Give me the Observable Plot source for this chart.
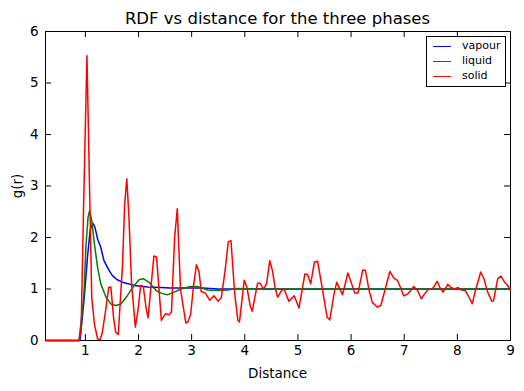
<!DOCTYPE html>
<html>
<head>
<meta charset="utf-8">
<script src="https://cdn.jsdelivr.net/npm/d3@7"></script>
<script src="https://cdn.jsdelivr.net/npm/@observablehq/plot@0.6"></script>
<style>
  html, body { margin: 0; padding: 0; background: #fff; }
  #wrap { position: relative; width: 524px; height: 391px; font-family: "DejaVu Sans", sans-serif; }
  #wrap svg { position: absolute; left: 0; top: 0; }
  .lbl { position: absolute; color: #000; white-space: nowrap; }
  #legend { position: absolute; left: 426px; top: 36px; width: 78px; height: 49px; border: 1px solid #000; background: #fff; font-size: 11px; }
  #legend .row { position: absolute; left: 0; height: 14px; }
  #legend .sw { position: absolute; left: 6px; width: 18px; height: 0; border-top: 1.3px solid; }
  #legend .tx { position: absolute; left: 35px; top: -7px; line-height: 14px; }
</style>
</head>
<body>
<div id="wrap"></div>
<script>
// ---- data ----
const vapourR = [0.25, 0.90, 0.98, 1.04, 1.09, 1.14, 1.18, 1.23, 1.29, 1.35, 1.44, 1.51, 1.60, 1.73, 1.92, 2.17, 2.42, 2.60, 3.20, 3.50, 9.00];
const vapourG = [0, 0, 0.84, 1.62, 2.14, 2.28, 2.20, 1.97, 1.81, 1.55, 1.37, 1.26, 1.18, 1.12, 1.07, 1.04, 1.03, 1.02, 1.02, 1.00, 1.00];

const liquidR = [0.25, 0.88, 0.97, 1.01, 1.05, 1.08, 1.12, 1.17, 1.23, 1.29, 1.39, 1.48, 1.57, 1.67, 1.79, 1.92, 2.01, 2.09, 2.20, 2.33, 2.45, 2.55, 2.67, 2.80, 2.98, 3.11, 3.30, 3.49, 3.67, 3.86, 4.20, 9.00];
const liquidG = [0, 0, 0.84, 1.81, 2.39, 2.52, 2.33, 1.88, 1.42, 1.10, 0.84, 0.71, 0.68, 0.71, 0.87, 1.07, 1.18, 1.20, 1.13, 0.97, 0.91, 0.89, 0.94, 1.00, 1.05, 1.05, 0.98, 0.97, 0.98, 1.01, 1.00, 1.00];

const solidR = [0.25, 0.88, 0.92, 0.97, 1.03, 1.07, 1.12, 1.17, 1.23, 1.28, 1.32, 1.39, 1.44, 1.48, 1.53, 1.57, 1.62, 1.70, 1.74, 1.78, 1.82, 1.87, 1.94, 1.99, 2.04, 2.09, 2.14, 2.18, 2.24, 2.29, 2.34, 2.43, 2.51, 2.57, 2.62, 2.68, 2.73, 2.79, 2.89, 2.93, 2.98, 3.04, 3.09, 3.14, 3.18, 3.26, 3.34, 3.42, 3.50, 3.56, 3.63, 3.69, 3.74, 3.81, 3.87, 3.90, 3.99, 4.04, 4.10, 4.14, 4.24, 4.29, 4.35, 4.41, 4.47, 4.52, 4.57, 4.62, 4.69, 4.74, 4.83, 4.93, 5.02, 5.13, 5.18, 5.24, 5.31, 5.37, 5.46, 5.55, 5.60, 5.68, 5.73, 5.84, 5.94, 6.00, 6.07, 6.13, 6.22, 6.27, 6.34, 6.40, 6.49, 6.56, 6.65, 6.73, 6.81, 6.87, 6.93, 6.99, 7.06, 7.12, 7.18, 7.25, 7.32, 7.38, 7.45, 7.53, 7.62, 7.67, 7.73, 7.82, 7.88, 7.95, 8.01, 8.07, 8.15, 8.22, 8.28, 8.34, 8.44, 8.50, 8.57, 8.65, 8.68, 8.76, 8.82, 8.89, 8.94, 9.00];
const solidG = [0, 0, 0.19, 2.78, 5.53, 3.43, 0.84, 0.32, 0.03, 0.02, 0.16, 0.65, 1.03, 1.04, 0.45, 0.16, 0.12, 1.49, 2.65, 3.14, 2.39, 1.10, 0.26, 0.58, 1.07, 1.05, 0.65, 0.44, 1.10, 1.64, 1.62, 0.39, 0.52, 0.50, 0.55, 2.00, 2.56, 1.00, 0.34, 0.36, 0.50, 1.10, 1.47, 1.33, 0.95, 0.92, 0.78, 0.87, 0.76, 0.84, 1.36, 1.92, 1.94, 0.91, 0.39, 0.36, 1.17, 1.03, 0.68, 0.57, 1.11, 1.11, 1.00, 1.10, 1.55, 1.36, 1.03, 0.84, 0.97, 1.00, 0.76, 0.87, 0.63, 1.29, 1.28, 1.10, 1.52, 1.54, 1.00, 0.45, 0.40, 0.91, 1.13, 0.89, 1.31, 1.13, 0.92, 0.92, 1.37, 1.36, 0.97, 0.74, 0.65, 0.68, 1.03, 1.34, 1.20, 1.17, 1.03, 0.87, 0.90, 0.97, 1.05, 0.97, 0.81, 0.90, 0.99, 1.00, 1.15, 1.03, 0.94, 1.09, 1.03, 1.00, 1.03, 0.98, 0.97, 0.84, 0.71, 0.97, 1.33, 1.20, 0.94, 0.76, 0.77, 1.20, 1.25, 1.13, 1.08, 0.97];

const xTicks = [1, 2, 3, 4, 5, 6, 7, 8, 9];
const yTicks = [0, 1, 2, 3, 4, 5, 6];

const phaseNames = ["vapour", "liquid", "solid"];
const phaseColors = ["#0000ff", "#008000", "#ff0000"];

// ---- build tables ----
const toRows = (R, G) => R.map((r, i) => ({r, g: G[i]}));
const series = [toRows(vapourR, vapourG), toRows(liquidR, liquidG), toRows(solidR, solidG)];

const W = 524, H = 391, mT = 31, mB = 51, mL = 45, mR = 14;
const plotH = H - mT - mB, plotW = W - mL - mR;
const tk = 6;
const fs = 13.5;

const chart = Plot.plot({
  width: W, height: H,
  marginTop: mT, marginBottom: mB, marginLeft: mL, marginRight: mR,
  style: {fontFamily: "DejaVu Sans, sans-serif", fontSize: fs + "px", background: "transparent", color: "#000"},
  x: {domain: [0.25, 9]},
  y: {domain: [0, 6]},
  marks: [
    Plot.frame({stroke: "#000", strokeWidth: 1}),
    Plot.tickX(xTicks, {x: d => d, insetTop: plotH - tk, stroke: "#000"}),
    Plot.tickX(xTicks, {x: d => d, insetBottom: plotH - tk, stroke: "#000"}),
    Plot.tickY(yTicks, {y: d => d, insetLeft: plotW - tk, stroke: "#000"}),
    Plot.tickY(yTicks, {y: d => d, insetRight: plotW - tk, stroke: "#000"}),
    ...series.map((d, i) => Plot.line(d, {x: "r", y: "g", stroke: phaseColors[i], strokeWidth: 1.5})),
    Plot.axisX(xTicks, {tickSize: 0, tickPadding: 5, label: null, fontSize: fs, tickFormat: d => String(d)}),
    Plot.axisY(yTicks, {tickSize: 0, tickPadding: 7, label: null, fontSize: fs, tickFormat: d => String(d)})
  ]
});

const wrap = document.getElementById("wrap");
wrap.appendChild(chart);

function addLabel(text, css) {
  const d = document.createElement("div");
  d.className = "lbl";
  d.textContent = text;
  Object.assign(d.style, css);
  wrap.appendChild(d);
  return d;
}
addLabel("RDF vs distance for the three phases", {left: (mL + plotW / 2) + "px", top: "18px", transform: "translate(-50%,-50%)", fontSize: "16.5px"});
addLabel("Distance", {left: (mL + plotW / 2) + "px", top: "373px", transform: "translate(-50%,-50%)", fontSize: fs + "px"});
addLabel("g(r)", {left: "17px", top: (mT + plotH / 2) + "px", transform: "translate(-50%,-50%) rotate(-90deg)", fontSize: fs + "px"});

// legend
const lg = document.createElement("div");
lg.id = "legend";
phaseNames.forEach((name, i) => {
  const row = document.createElement("div");
  row.className = "row";
  row.style.top = (9 + i * 15) + "px";
  const sw = document.createElement("div");
  sw.className = "sw";
  sw.style.borderTopColor = phaseColors[i];
  const tx = document.createElement("div");
  tx.className = "tx";
  tx.textContent = name;
  row.appendChild(sw);
  row.appendChild(tx);
  lg.appendChild(row);
});
wrap.appendChild(lg);
</script>
</body>
</html>
